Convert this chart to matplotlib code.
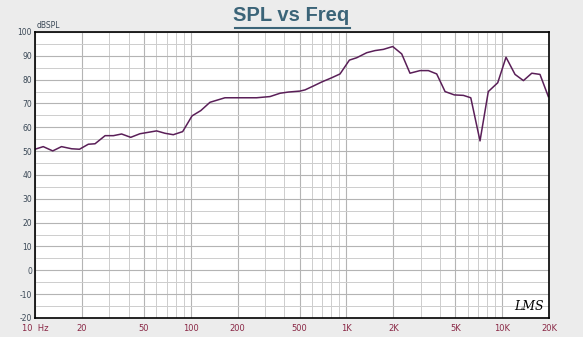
import matplotlib
matplotlib.use("Agg")
import matplotlib.pyplot as plt
from matplotlib.ticker import FixedLocator, NullFormatter

plt.rcParams["axes.unicode_minus"] = False

freq = [10, 11.3, 13, 14.8, 17.2, 19.3, 22, 24.3, 28.2, 31.9, 36, 41.2, 47.2, 53.4,
        60.4, 68.4, 77.3, 88.8, 102, 116, 133, 166, 200, 265, 323, 375, 424, 503,
        542, 612, 693, 805, 910, 1045, 1165, 1350, 1527, 1727, 1983, 2265, 2560,
        2970, 3360, 3800, 4300, 4930, 5640, 6290, 7210, 8150, 9370, 10590, 12100,
        13700, 15500, 17500, 19800]
spl = [50.8, 51.9, 50.1, 51.9, 51.0, 50.8, 52.9, 53.1, 56.5, 56.5, 57.2, 55.8, 57.3,
       57.9, 58.5, 57.5, 56.9, 58.2, 64.8, 67.0, 70.5, 72.4, 72.4, 72.4, 72.9, 74.3,
       74.8, 75.2, 75.7, 77.3, 79.0, 80.8, 82.4, 88.2, 89.2, 91.3, 92.2, 92.7, 93.9,
       90.8, 82.7, 83.8, 83.8, 82.4, 75.0, 73.6, 73.4, 72.4, 54.3, 75.0, 78.7, 89.4,
       82.2, 79.6, 82.7, 82.2, 72.9]

xticks = [10, 20, 50, 100, 200, 500, 1000, 2000, 5000, 10000, 20000]
xlabels = ["10  Hz", "20", "50", "100", "200", "500", "1K", "2K", "5K", "10K", "20K"]
yticks = [100, 90, 80, 70, 60, 50, 40, 30, 20, 10, 0, -10, -20]

fig = plt.figure(figsize=(5.83, 3.37), dpi=100)
fig.patch.set_facecolor("#ececec")
ax = fig.add_axes([0.060, 0.0564, 0.8817, 0.8487])
ax.set_facecolor("white")

ax.set_xscale("log")
ax.set_xlim(10, 20000)
ax.set_ylim(-20, 100)

minor_x = [m * d for d in (10, 100, 1000, 10000) for m in range(1, 10) if 10 <= m * d <= 20000]
ax.xaxis.set_major_locator(FixedLocator(xticks))
ax.xaxis.set_minor_locator(FixedLocator(minor_x))
ax.xaxis.set_minor_formatter(NullFormatter())
ax.set_xticklabels(xlabels)
ax.yaxis.set_major_locator(FixedLocator(yticks))
ax.yaxis.set_minor_locator(FixedLocator(list(range(-15, 100, 10))))

ax.grid(True, which="major", color="#b4b4b4", linewidth=0.8)
ax.grid(True, which="minor", color="#cdcdcd", linewidth=0.7)
ax.set_axisbelow(True)

ax.tick_params(axis="both", which="both", length=0)
ax.tick_params(axis="x", labelsize=6, colors="#8a2846", pad=4)
ax.tick_params(axis="y", labelsize=5.5, colors="#3a4856", pad=2)
for lbl in ax.get_xticklabels():
    lbl.set_color("#8a2846")

for s in ax.spines.values():
    s.set_color("black")
    s.set_linewidth(1.2)

ax.plot(freq, spl, color="#5a1f58", linewidth=1.1)

fig.text(0.5, 0.955, "SPL vs Freq", ha="center", va="center", fontsize=14.5,
         fontweight="bold", color="#3b6478", family="Liberation Sans")
# underline
fig.add_artist(plt.Line2D([0.403, 0.600], [0.917, 0.917], color="#3b6478", linewidth=1.5))

fig.text(0.062, 0.912, "dBSPL", ha="left", va="bottom", fontsize=5.5, color="#3a4856")
ax.text(0.99, 0.018, "LMS", transform=ax.transAxes, ha="right", va="bottom",
        fontsize=9, style="italic", family="DejaVu Serif", color="black")

fig.savefig("out.png", dpi=100, facecolor=fig.get_facecolor())
